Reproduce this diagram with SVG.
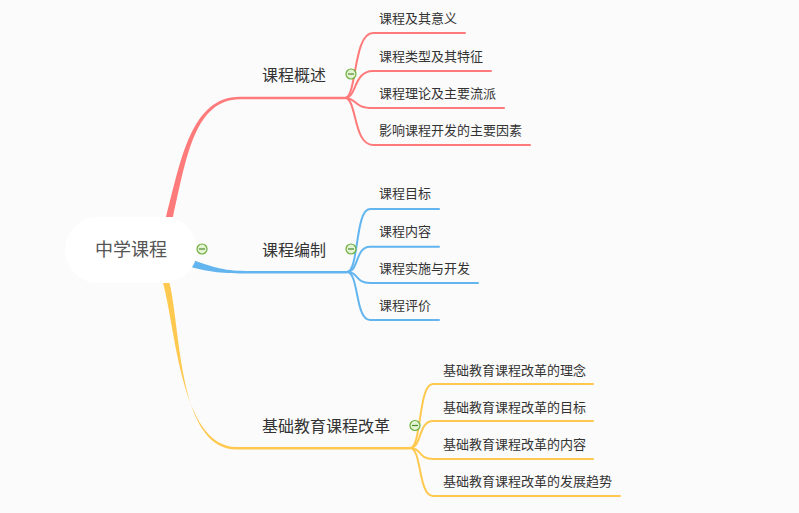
<svg xmlns="http://www.w3.org/2000/svg" width="799" height="513" viewBox="0 0 799 513">
<style>
text{font-family:"Noto Sans CJK SC","Microsoft YaHei",sans-serif;fill:#333}
.c{font-size:13px}
.m{font-size:16px}
.sub{fill:none;stroke-width:2;stroke-linecap:round}
.r{stroke:#ff7a7a}
.b{stroke:#62b5ef}
.y{stroke:#ffc94f}
.tog circle{fill:#e4f3d4;stroke:#6cae3c;stroke-width:1.2}
.tog line{stroke:#4d8a2a;stroke-width:1.2}
</style>
<rect width="799" height="513" fill="#fbfbfb"/>
<g id="connectors">
<path d="M166,217 C181,160 191,96.8 240,96.8 L345,96.8 L345,99.3 L240,99.3 C194,99.3 186,160 173,217 Z" fill="#ff7a7a"/>
<path d="M193,260 C215,268 225,271 250,271 L347,271 L347,273.5 L250,273.5 C222,273.5 210,272 191,267 Z" fill="#62b5ef"/>
<path d="M163,283 C176,330 181,447 237,447 L410,447 L410,449.5 L237,449.5 C178,449.5 181,330 169.5,283 Z" fill="#ffc94f"/>
<path class="sub r" d="M345,98 C357,98 353,33 373,33 L465,33"/>
<path class="sub r" d="M345,98 C357,98 353,71 373,71 L491,71"/>
<path class="sub r" d="M345,98 C357,98 353,108 373,108 L504,108"/>
<path class="sub r" d="M345,98 C357,98 353,145 373,145 L530,145"/>
<path class="sub b" d="M347,272 C359,272 355,209 370,209 L439,209"/>
<path class="sub b" d="M347,272 C359,272 355,246.7 370,246.7 L439,246.7"/>
<path class="sub b" d="M347,272 C359,272 355,283 370,283 L478,283"/>
<path class="sub b" d="M347,272 C359,272 355,320 370,320 L439,320"/>
<path class="sub y" d="M410,448 C422,448 418,384 433,384 L593,384"/>
<path class="sub y" d="M410,448 C422,448 418,421 433,421 L593,421"/>
<path class="sub y" d="M410,448 C422,448 418,459 433,459 L593,459"/>
<path class="sub y" d="M410,448 C422,448 418,496 433,496 L620,496"/>
</g>
<g id="root">
<rect x="65" y="217" width="132" height="66" rx="33" fill="#ffffff"/>
<text x="131" y="256" font-size="18" text-anchor="middle" style="fill:#555">中学课程</text>
<g class="tog"><circle cx="202" cy="249" r="5"/><line x1="199" y1="249" x2="205" y2="249"/></g>
</g>
<g id="n1">
<text class="m" x="262" y="81">课程概述</text>
<g class="tog"><circle cx="351" cy="74" r="5"/><line x1="348" y1="74" x2="354" y2="74"/></g>
</g>
<g id="n1a"><text class="c" x="379" y="23">课程及其意义</text></g>
<g id="n1b"><text class="c" x="379" y="60.5">课程类型及其特征</text></g>
<g id="n1c"><text class="c" x="379" y="97.5">课程理论及主要流派</text></g>
<g id="n1d"><text class="c" x="379" y="134.5">影响课程开发的主要因素</text></g>
<g id="n2">
<text class="m" x="262" y="256">课程编制</text>
<g class="tog"><circle cx="351" cy="249" r="5"/><line x1="348" y1="249" x2="354" y2="249"/></g>
</g>
<g id="n2a"><text class="c" x="379" y="198">课程目标</text></g>
<g id="n2b"><text class="c" x="379" y="236">课程内容</text></g>
<g id="n2c"><text class="c" x="379" y="273">课程实施与开发</text></g>
<g id="n2d"><text class="c" x="379" y="310">课程评价</text></g>
<g id="n3">
<text class="m" x="262" y="432">基础教育课程改革</text>
<g class="tog"><circle cx="415" cy="425.5" r="5"/><line x1="412" y1="425.5" x2="418" y2="425.5"/></g>
</g>
<g id="n3a"><text class="c" x="443" y="374.5">基础教育课程改革的理念</text></g>
<g id="n3b"><text class="c" x="443" y="411.5">基础教育课程改革的目标</text></g>
<g id="n3c"><text class="c" x="443" y="448.5">基础教育课程改革的内容</text></g>
<g id="n3d"><text class="c" x="443" y="485.5">基础教育课程改革的发展趋势</text></g>
</svg>
